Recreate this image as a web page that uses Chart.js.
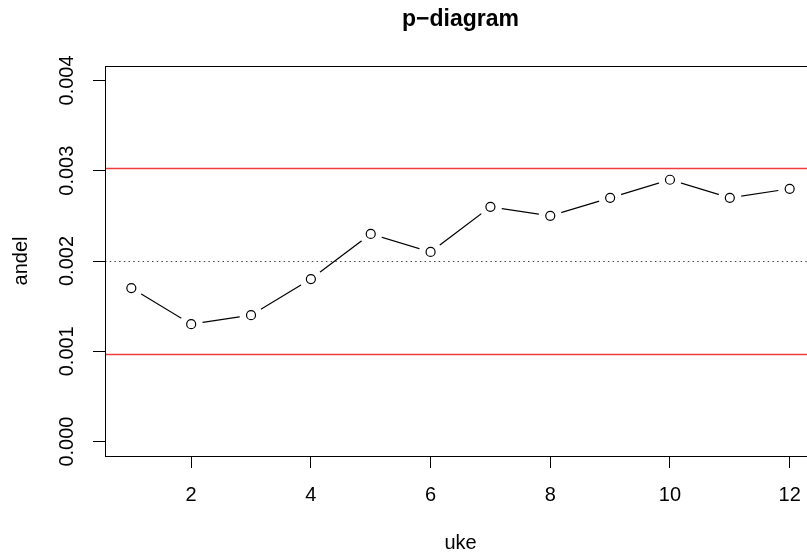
<!DOCTYPE html>
<html>
<head>
<meta charset="utf-8">
<script src="https://cdn.jsdelivr.net/npm/chart.js@4/dist/chart.umd.min.js"></script>
<style>
  html, body { margin: 0; padding: 0; background: #fff; overflow: hidden; }
  #wrap { width: 807px; height: 552px; overflow: hidden; }
  #wrap canvas { display: block; }
</style>
</head>
<body>
<div id="wrap"><canvas id="chart" width="830" height="552"></canvas></div>
<script>
// p-diagram: share per week
const weeks = [1, 2, 3, 4, 5, 6, 7, 8, 9, 10, 11, 12];
const andel = [0.0017, 0.0013, 0.0014, 0.0018, 0.0023, 0.0021, 0.0026, 0.0025, 0.0027, 0.0029, 0.0027, 0.0028];
const centerLine = 0.002;
const upperLimit = 0.00303;
const lowerLimit = 0.00097;
const xTicks = [2, 4, 6, 8, 10, 12];
const yTicks = [0.000, 0.001, 0.002, 0.003, 0.004];

const FONT = "'Liberation Sans', Arial, Helvetica, sans-serif";
const points = weeks.map((w, i) => ({ x: w, y: andel[i] }));

// gaps round the points (R type="b"), control limits, center line, frame, title
const extras = {
  id: 'extras',
  afterDraw(chart) {
    const { ctx, chartArea: a, scales: { y } } = chart;
    const circles = chart.getDatasetMeta(0).data;
    ctx.save();
    ctx.fillStyle = '#ffffff';
    circles.forEach(p => {
      ctx.beginPath(); ctx.arc(p.x, p.y, 11.5, 0, Math.PI * 2); ctx.closePath(); ctx.fill();
    });
    ctx.restore();
    circles.forEach(p => p.draw(ctx, a));

    ctx.save();
    ctx.beginPath();
    ctx.rect(a.left, a.top, a.right - a.left, a.bottom - a.top);
    ctx.clip();
    ctx.strokeStyle = '#f03c3c';
    ctx.lineWidth = 1.6;
    [upperLimit, lowerLimit].forEach(v => {
      const py = Math.round(y.getPixelForValue(v)) + 0.5;
      ctx.beginPath(); ctx.moveTo(a.left, py); ctx.lineTo(a.right, py); ctx.stroke();
    });
    ctx.strokeStyle = '#444';
    ctx.lineWidth = 1;
    ctx.setLineDash([1.5, 3.2]);
    const cy = Math.round(y.getPixelForValue(centerLine)) + 0.5;
    ctx.beginPath(); ctx.moveTo(a.left, cy); ctx.lineTo(a.right, cy); ctx.stroke();
    ctx.restore();

    ctx.save();
    ctx.strokeStyle = '#000';
    ctx.lineWidth = 1;
    ctx.strokeRect(Math.round(a.left) + 0.5, Math.round(a.top) + 0.5,
      Math.round(a.right - a.left), Math.round(a.bottom - a.top));
    ctx.fillStyle = '#000';
    ctx.font = 'bold 23px ' + FONT;
    ctx.textAlign = 'center';
    ctx.textBaseline = 'middle';
    ctx.fillText('p\u2212diagram', (a.left + a.right) / 2, 20);
    ctx.restore();
  }
};

new Chart(document.getElementById('chart'), {
  type: 'scatter',
  data: {
    datasets: [
      {
        data: points, showLine: false, pointRadius: 4.5, pointBorderWidth: 1.2,
        pointBackgroundColor: '#fff', pointBorderColor: '#000', order: 0
      },
      {
        data: points, showLine: true, borderColor: '#000', borderWidth: 1.2,
        pointRadius: 0, order: 1
      }
    ]
  },
  options: {
    responsive: false,
    animation: false,
    events: [],
    layout: { padding: { top: 66, right: 14, left: 0, bottom: 0 } },
    plugins: { legend: { display: false }, tooltip: { enabled: false }, title: { display: false } },
    scales: {
      x: {
        type: 'linear',
        min: 0.56, max: 12.44,
        afterBuildTicks: s => { s.ticks = xTicks.map(v => ({ value: v })); },
        afterFit: s => { s.height = 96; },
        grid: { drawOnChartArea: false, tickLength: 12, color: '#000', tickWidth: 1 },
        border: { display: true, color: '#000' },
        ticks: { color: '#000', padding: 15, font: { family: FONT, size: 20 }, maxRotation: 0 },
        title: {
          display: true, text: 'uke', color: '#000',
          font: { family: FONT, size: 20, lineHeight: 0.9 }, padding: { top: 0, bottom: 0 }
        }
      },
      y: {
        min: -0.00016, max: 0.00416,
        afterBuildTicks: s => { s.ticks = yTicks.map(v => ({ value: v })); },
        afterFit: s => { s.width = 105; },
        grid: { drawOnChartArea: false, tickLength: 12, color: '#000', tickWidth: 1 },
        border: { display: true, color: '#000' },
        ticks: {
          color: '#000', padding: 0, minRotation: 90, maxRotation: 90, crossAlign: 'center',
          font: { family: FONT, size: 20 },
          callback: v => v.toFixed(3)
        },
        title: {
          display: true, text: 'andel', color: '#000',
          font: { family: FONT, size: 20, lineHeight: 1 }, padding: { top: 11, bottom: 0 }
        }
      }
    }
  },
  plugins: [extras]
});
</script>
</body>
</html>
